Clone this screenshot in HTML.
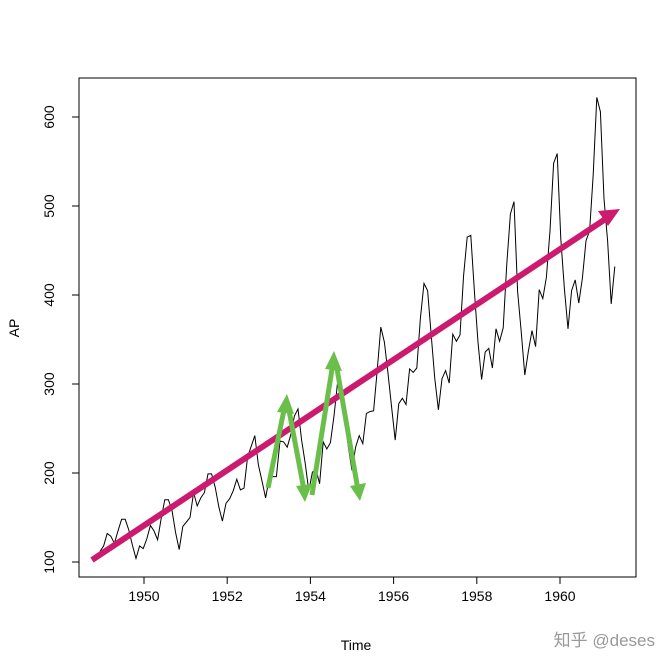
<!DOCTYPE html>
<html><head><meta charset="utf-8"><style>
html,body{margin:0;padding:0;background:#fff;}
svg{display:block;font-family:"Liberation Sans","Noto Sans CJK SC",sans-serif;}
</style></head><body>
<svg id="chart" width="671" height="671" viewBox="0 0 671 671">
<rect x="79" y="78" width="557" height="499" fill="none" stroke="#000" stroke-width="1"/>
<g id="xaxis"></g>
<g id="yaxis"></g>
<polyline id="series" fill="none" stroke="#000" stroke-width="1"/>
<text x="356" y="650" font-size="14" text-anchor="middle">Time</text>
<text x="19" y="328" font-size="14" text-anchor="middle" transform="rotate(-90 19 328)">AP</text>
<g>
<line x1="92" y1="560" x2="607" y2="218" stroke="#cc1a6e" stroke-width="6"/>
<polygon points="620,209 598,211 608,226" fill="#cc1a6e"/>
</g>
<g fill="none" stroke="#6abf4b" stroke-width="5">
<line x1="268" y1="488" x2="285" y2="405"/>
<line x1="288" y1="405" x2="304" y2="490"/>
<line x1="312" y1="495" x2="333" y2="363"/>
<line x1="336" y1="363" x2="358" y2="490"/>
</g>
<g fill="#6abf4b">
<polygon points="287,394 277,412 294,414"/>
<polygon points="305,502 296,486 312,484"/>
<polygon points="334,351 325,369 342,371"/>
<polygon points="360,501 350,486 366,483"/>
</g>
<text x="655" y="646" font-size="17" fill="#999" text-anchor="end">知乎 @deses</text>
</svg>
<script>
const years=[1949,1950,1951,1952,1953,1954,1955,1956,1957,1958,1959,1960];
const passengers=[
112,118,132,129,121,135,148,148,136,119,104,118,
115,126,141,135,125,149,170,170,158,133,114,140,
145,150,178,163,172,178,199,199,184,162,146,166,
171,180,193,181,183,218,230,242,209,191,172,194,
196,196,236,235,229,243,264,272,237,211,180,201,
204,188,235,227,234,264,302,293,259,229,203,229,
242,233,267,269,270,315,364,347,312,274,237,278,
284,277,317,313,318,374,413,405,355,306,271,306,
315,301,356,348,355,422,465,467,404,347,305,336,
340,318,362,348,363,435,491,505,404,359,310,337,
360,342,406,396,420,472,548,559,463,407,362,405,
417,391,419,461,472,535,622,606,508,461,390,432];
const xTicks=[1950,1952,1954,1956,1958,1960];
const yTicks=[100,200,300,400,500,600];
const sxTick=t=>144+(t-1950)*41.6;
const sx=t=>100+(t-1949)*43.2;
const sy=v=>562-(v-100)*0.89;
const NS="http://www.w3.org/2000/svg";
const pts=passengers.map((v,i)=>sx(years[0]+i/12).toFixed(1)+","+sy(v).toFixed(1)).join(" ");
document.getElementById("series").setAttribute("points",pts);
const xa=document.getElementById("xaxis");
const xl=document.createElementNS(NS,"line");
xl.setAttribute("x1",sxTick(xTicks[0]));xl.setAttribute("x2",sxTick(xTicks[xTicks.length-1]));
xl.setAttribute("y1",577);xl.setAttribute("y2",577);xl.setAttribute("stroke","#000");


xa.appendChild(xl);
xTicks.forEach(t=>{
 const l=document.createElementNS(NS,"line");
 l.setAttribute("x1",sxTick(t));l.setAttribute("x2",sxTick(t));l.setAttribute("y1",577);l.setAttribute("y2",584);l.setAttribute("stroke","#000");
 
 
 xa.appendChild(l);
 const tx=document.createElementNS(NS,"text");
 tx.setAttribute("x",sxTick(t));tx.setAttribute("y",601);tx.setAttribute("font-size","14");tx.setAttribute("text-anchor","middle");
 tx.textContent=t;
 
 
 xa.appendChild(tx);
});
const ya=document.getElementById("yaxis");
const yl=document.createElementNS(NS,"line");
yl.setAttribute("x1",79);yl.setAttribute("x2",79);
yl.setAttribute("y1",sy(yTicks[0]));yl.setAttribute("y2",sy(yTicks[yTicks.length-1]));yl.setAttribute("stroke","#000");


ya.appendChild(yl);
yTicks.forEach(v=>{
 const l=document.createElementNS(NS,"line");
 l.setAttribute("x1",72);l.setAttribute("x2",79);l.setAttribute("y1",sy(v));l.setAttribute("y2",sy(v));l.setAttribute("stroke","#000");
 
 
 ya.appendChild(l);
 const tx=document.createElementNS(NS,"text");
 const y=sy(v);
 tx.setAttribute("x",54);tx.setAttribute("y",y);tx.setAttribute("font-size","14");tx.setAttribute("text-anchor","middle");
 tx.setAttribute("transform","rotate(-90 54 "+y+")");
 tx.textContent=v;
 
 
 ya.appendChild(tx);
});
</script>
</body></html>
